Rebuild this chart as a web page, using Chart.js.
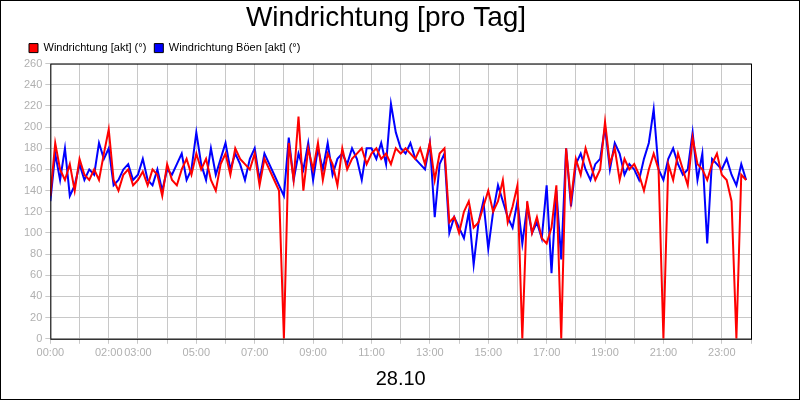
<!DOCTYPE html>
<html>
<head>
<meta charset="utf-8">
<script src="https://cdn.jsdelivr.net/npm/chart.js@4"></script>
<style>
  html, body { margin: 0; padding: 0; background: #fff; }
  #wrap { width: 798px; height: 398px; border: 1px solid #000; }
</style>
</head>
<body>
<div id="wrap"><canvas id="chart" width="798" height="398"></canvas></div>
<script>
// Werte alle 10 Minuten, 6 pro Stunde (00:00 bis 23:50)
const windAkt = [
  135,185,160,150,165,140, 170,155,150,160,150,175, 198,150,140,155,160,145,
  150,158,145,160,155,135, 165,150,145,160,170,155, 175,160,170,150,140,165,
  175,155,180,170,165,160, 175,145,170,160,150,140, 0,185,150,210,140,180,
  160,185,150,175,165,145, 180,160,170,175,180,165, 175,180,170,175,165,180,
  175,180,175,170,180,165, 185,150,175,180,110,115, 100,120,130,105,110,125,
  140,120,130,150,110,125, 145,0,130,100,115,95, 90,105,145,0,180,130,
  170,155,180,165,150,160, 205,165,180,150,170,160, 165,155,140,160,175,160,
  0,165,150,175,160,145, 190,165,160,150,165,175, 155,150,130,0,155,150
];
const windBoeen = [
  130,175,150,180,135,145, 165,150,160,155,185,170, 180,145,150,160,165,150,
  155,170,150,145,160,140, 160,155,165,175,150,160, 195,165,150,180,155,170,
  185,160,175,165,150,170, 180,150,175,165,155,145, 135,190,150,175,160,185,
  150,180,160,185,155,170, 175,165,180,170,150,180, 180,170,185,165,222,195,
  180,175,185,170,165,160, 185,115,165,175,100,115, 105,95,120,70,110,130,
  85,120,145,130,115,105, 130,90,125,100,110,95, 145,62,140,75,180,125,
  165,175,160,150,165,170, 200,160,185,175,155,165, 160,150,170,185,217,160,
  150,170,180,165,155,160, 195,150,175,90,170,165, 160,170,155,145,165,150
];
const tickHours = [0, 2, 3, 5, 7, 9, 11, 13, 15, 17, 19, 21, 23];

const toPoints = arr => arr.map((v, i) => ({ x: i / 6, y: v }));

const frame = {
  id: "frame",
  afterDraw(chart) {
    const { ctx, chartArea: a } = chart;
    ctx.save();
    ctx.strokeStyle = "#000";
    ctx.lineWidth = 1;
    ctx.strokeRect(a.left + 0.5, a.top + 0.5, a.right - a.left, a.bottom - a.top);
    ctx.restore();
  }
};

new Chart(document.getElementById("chart").getContext("2d"), {
  type: "line",
  data: {
    datasets: [
      { label: "Windrichtung Böen [akt] (°)", data: toPoints(windBoeen), borderColor: "#0000ff", backgroundColor: "#0000ff", borderWidth: 2, pointRadius: 0, tension: 0, order: 2 },
      { label: "Windrichtung [akt] (°)", data: toPoints(windAkt), borderColor: "#ff0000", backgroundColor: "#ff0000", borderWidth: 2, pointRadius: 0, tension: 0, order: 1 }
    ]
  },
  options: {
    responsive: false,
    animation: false,
    layout: { padding: { left: 20, right: 48, top: 0, bottom: 0 } },
    plugins: {
      title: { display: true, text: "Windrichtung [pro Tag]", color: "#000", font: { family: "Liberation Sans", size: 28, weight: "normal" }, padding: { top: 0, bottom: 0 } },
      legend: {
        align: "start",
        reverse: true,
        labels: { boxWidth: 9, boxHeight: 9, color: "#000", font: { family: "Liberation Sans", size: 11 }, padding: 8,
          generateLabels: chart => chart.data.datasets.map((d, i) => ({ text: d.label, fillStyle: d.borderColor, strokeStyle: "#000", lineWidth: 1, datasetIndex: i })) }
      },
      tooltip: { enabled: false }
    },
    scales: {
      x: {
        type: "linear", min: 0, max: 24,
        afterBuildTicks: axis => { axis.ticks = Array.from({ length: 25 }, (_, h) => ({ value: h })); },
        ticks: { autoSkip: false, maxRotation: 0, color: "#b0b0b0", font: { family: "Liberation Sans", size: 11 } ,
          callback: v => tickHours.includes(v) ? String(v).padStart(2, "0") + ":00" : "" },
        grid: { color: "#c8c8c8", tickLength: 5 },
        title: { display: true, text: "28.10", color: "#000", font: { family: "Liberation Sans", size: 20 }, padding: { top: 4, bottom: 8 } }
      },
      y: {
        min: 0, max: 260,
        ticks: { stepSize: 20, color: "#b0b0b0", font: { family: "Liberation Sans", size: 11 } },
        grid: { color: "#c8c8c8", tickLength: 5 }
      }
    }
  },
  plugins: [frame]
});
</script>
</body>
</html>
